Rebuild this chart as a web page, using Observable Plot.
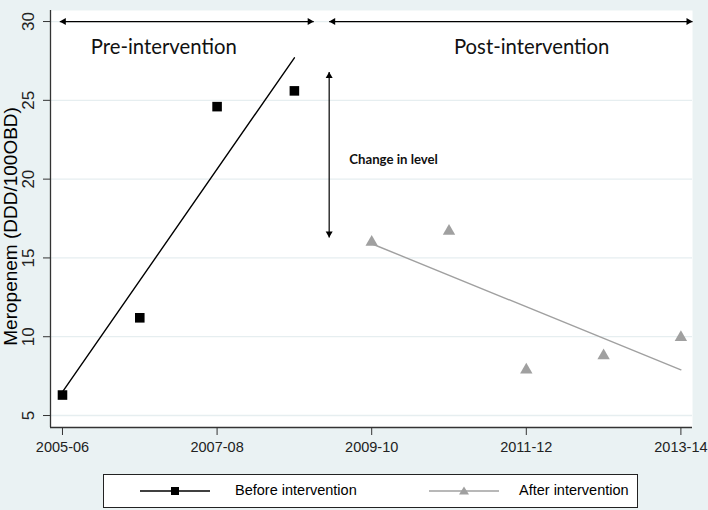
<!DOCTYPE html>
<html>
<head>
<meta charset="utf-8">
<script src="https://cdn.jsdelivr.net/npm/d3@7"></script>
<script src="https://cdn.jsdelivr.net/npm/@observablehq/plot@0.6"></script>
<style>
  html, body { margin: 0; padding: 0; background: #eaf2f3; }
  #wrap { position: relative; width: 708px; height: 510px; overflow: hidden; background: #eaf2f3; }
  #legend { position: absolute; left: 103px; top: 474px; width: 533px; height: 32px; border: 1px solid #222; background: #fff;
            font-family: "Liberation Sans", Arial, sans-serif; font-size: 14.5px; color: #000; }
  #legend .sw { position: absolute; top: 9px; }
  #legend .lb { position: absolute; top: 7px; white-space: nowrap; }
</style>
</head>
<body>
<div id="wrap">
  <div id="chart"></div>
  <div id="legend">
    <svg class="sw" style="left:36px" width="72" height="14"><line x1="0" y1="7" x2="70" y2="7" stroke="#000" stroke-width="1.3"/><rect x="31" y="3" width="8" height="8" fill="#000"/></svg>
    <span class="lb" style="left:131px">Before intervention</span>
    <svg class="sw" style="left:325px" width="72" height="14"><line x1="0" y1="7" x2="70" y2="7" stroke="#a0a0a0" stroke-width="1.3"/><path d="M35,2.5 L40,10.5 L30,10.5 Z" fill="#a0a0a0"/></svg>
    <span class="lb" style="left:415px">After intervention</span>
  </div>
</div>
<script>
// ---- data ----
const periods = ["2005-06","2006-07","2007-08","2008-09","2009-10","2010-11","2011-12","2012-13","2013-14"];
const beforeX = [0, 1, 2, 3];
const beforeY = [6.3, 11.2, 24.6, 25.6];
const afterX = [4, 5, 6, 7, 8];
const afterY = [16.0, 16.7, 7.9, 8.8, 9.95];
const fitBeforeX = [0, 3];
const fitBeforeY = [6.5, 27.7];
const fitAfterX = [4, 8];
const fitAfterY = [15.9, 7.9];
const yTicks = [5, 10, 15, 20, 25, 30];
const xTicks = [0, 2, 4, 6, 8];
const xDomain = [-0.155, 8.15];
const yDomain = [4.24, 30.7];
const periodArrows = [{x1: -0.035, x2: 3.25, y: 30}, {x1: 3.45, x2: 8.15, y: 30}];
const levelArrow = [{x: 3.45, y1: 16.3, y2: 26.8}];
const periodLabels = [{x: 1.31, y: 28.35, text: "Pre-intervention"}, {x: 6.07, y: 28.35, text: "Post-intervention"}];
const levelLabel = [{x: 3.71, y: 21.2, text: "Change in level"}];
const yTitle = "Meropenem (DDD/100OBD)";

const before = beforeX.map((x, i) => ({x, y: beforeY[i]}));
const after = afterX.map((x, i) => ({x, y: afterY[i]}));
const fitBefore = fitBeforeX.map((x, i) => ({x, y: fitBeforeY[i]}));
const fitAfter = fitAfterX.map((x, i) => ({x, y: fitAfterY[i]}));

const sans = "Liberation Sans, Arial, sans-serif";
const cal = "Lato, Open Sans, sans-serif";

const chart = Plot.plot({
  width: 708,
  height: 465,
  marginLeft: 50,
  marginRight: 16,
  marginTop: 10,
  marginBottom: 38,
  style: {background: "transparent", fontFamily: sans, color: "#000"},
  x: {domain: xDomain, label: null},
  y: {domain: yDomain, label: null},
  marks: [
    Plot.frame({fill: "white", stroke: null}),
    Plot.ruleY(yTicks, {stroke: "#e6eef0", strokeWidth: 1.3}),
    Plot.ruleX([xDomain[0]], {stroke: "#333", strokeWidth: 1.3}),
    Plot.ruleY([yDomain[0]], {stroke: "#333", strokeWidth: 1.3}),
    Plot.axisY({ticks: yTicks, tickSize: 7, tickFormat: () => "", label: null, stroke: "#333"}),
    Plot.text(yTicks, {y: d => d, text: d => String(d), frameAnchor: "left", textAnchor: "middle", dx: -21.5, rotate: -90, fontSize: 17, fill: "#222"}),
    Plot.text([yTitle], {y: 17.0, text: d => d, frameAnchor: "left", textAnchor: "middle", dx: -40, rotate: -90, fontSize: 19, fill: "#000"}),
    Plot.axisX({ticks: xTicks, tickFormat: i => periods[i], tickSize: 8, tickPadding: 6, fontSize: 14.5, label: null, stroke: "#333", fill: "#222"}),
    // fitted lines
    Plot.line(fitBefore, {x: "x", y: "y", stroke: "#000", strokeWidth: 1.4}),
    Plot.line(fitAfter, {x: "x", y: "y", stroke: "#a0a0a0", strokeWidth: 1.4}),
    // observed points
    Plot.dot(before, {x: "x", y: "y", symbol: "square", r: 5.4, fill: "#000"}),
    Plot.dot(after, {x: "x", y: "y", symbol: "triangle", r: 4.6, fill: "#a0a0a0"}),
    // period arrows
    Plot.link(periodArrows, {x1: "x1", x2: "x2", y1: "y", y2: "y", stroke: "#000", strokeWidth: 1.2}),
    Plot.dot(periodArrows, {x: "x1", y: "y", symbol: "triangle", r: 2.6, rotate: -90, dx: 4, fill: "#000"}),
    Plot.dot(periodArrows, {x: "x2", y: "y", symbol: "triangle", r: 2.6, rotate: 90, dx: -4, fill: "#000"}),
    // change in level arrow
    Plot.link(levelArrow, {x1: "x", x2: "x", y1: "y1", y2: "y2", stroke: "#000", strokeWidth: 1.2}),
    Plot.dot(levelArrow, {x: "x", y: "y2", symbol: "triangle", r: 2.6, rotate: 0, dy: 4, fill: "#000"}),
    Plot.dot(levelArrow, {x: "x", y: "y1", symbol: "triangle", r: 2.6, rotate: 180, dy: -4, fill: "#000"}),
    // annotations
    Plot.text(periodLabels, {x: "x", y: "y", text: "text", fontSize: 20.3, fontFamily: cal, fill: "#111"}),
    Plot.text(levelLabel, {x: "x", y: "y", text: "text", fontSize: 13.2, fontWeight: "bold", fontFamily: cal, textAnchor: "start", fill: "#111"})
  ]
});
document.getElementById("chart").appendChild(chart);
</script>
</body>
</html>
